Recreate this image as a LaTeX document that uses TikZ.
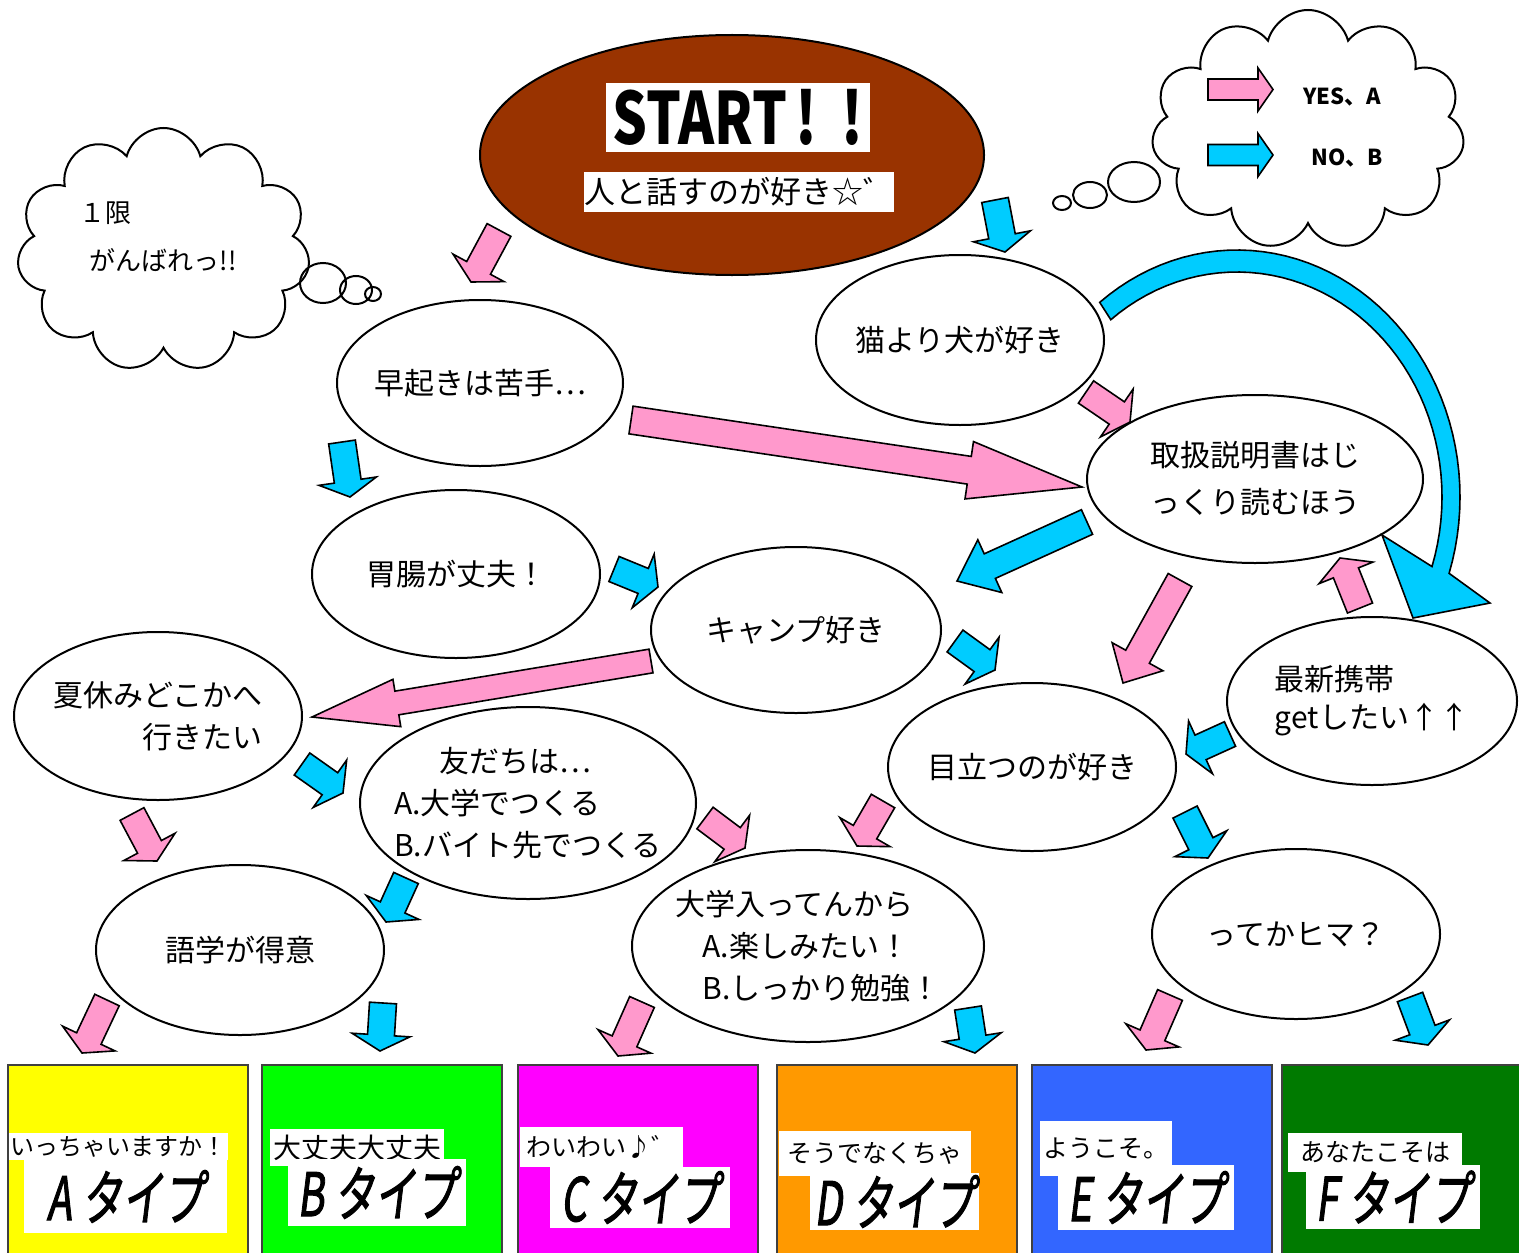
\documentclass[tikz,border=0pt]{standalone}
\usepackage{fontspec}
\usepackage{graphicx}
\setmainfont{Noto Sans CJK JP}
\newfontfamily\typefont[FakeSlant=0.18,FakeBold=2]{Noto Sans CJK JP}
\usetikzlibrary{shapes.geometric,shapes.symbols,calc}

\definecolor{yescol}{HTML}{FF99CC}
\definecolor{nocol}{HTML}{00CCFF}
\definecolor{startcol}{HTML}{993300}
\definecolor{colA}{HTML}{FFFF00}
\definecolor{colB}{HTML}{00FF00}
\definecolor{colC}{HTML}{FF00FF}
\definecolor{colD}{HTML}{FF9900}
\definecolor{colE}{HTML}{3366FF}
\definecolor{colF}{HTML}{007A00}

\tikzset{
  shaftw/.store in=\shw, headw/.store in=\hhw, headl/.store in=\hl,
  shaftw=6.75pt, headw=14.5pt, headl=8pt,
  blk/.style={draw, line width=0.8pt, to path={let \p1=(\tikztostart), \p2=(\tikztotarget),
      \n1={atan2(\y2-\y1,\x2-\x1)}, \n2={veclen(\x2-\x1,\y2-\y1)} in
      (\p1) ++(\n1+90:\shw) -- ++(\n1:\n2-\hl) -- ++(\n1+90:\hhw-\shw) -- (\p2)
      -- ($(\p2)+(\n1+180:\hl)+(\n1-90:\hhw)$) -- ++(\n1+90:\hhw-\shw)
      -- ++(\n1+180:\n2-\hl) -- cycle}},
  yes/.style={blk, fill=yescol},
  no/.style={blk, fill=nocol},
  bub/.style 2 args={ellipse, draw, line width=1pt, fill=white, inner xsep=-30pt, inner ysep=0pt,
      minimum width=#1pt, minimum height=#2pt, font=\fontsize{15}{21}\selectfont},
  puff/.style={cloud, cloud puffs=11, cloud ignores aspect, draw, line width=1pt, inner sep=0pt},
  tbox/.style={draw=black!75, line width=1pt, minimum width=120pt, minimum height=98.5pt},
  capbox/.style={fill=white, inner sep=0pt, font=\fontsize{12.5}{12.5}\selectfont},
  typbox/.style={fill=white, inner sep=0pt},
}
\newcommand{\typelabel}[1]{\scalebox{0.68}[1]{\typefont\fontsize{30}{30}\selectfont #1\hspace{0.25em}タイプ}}

\begin{document}
\begin{tikzpicture}[x=0.5pt, y=-0.5pt]
  \useasboundingbox (0,0) rectangle (1519,1252);
  \clip (0,0) rectangle (1519,1252);

  % thought clouds
  \node[puff, minimum width=146.5pt, minimum height=122pt] (ganbare) at (163.5,250) {};
  \node[align=left, font=\fontsize{13}{24}\selectfont] (ganbaretxt) at (158,237) {１限\\\hspace*{0.4em}がんばれっ!!};
  \draw[line width=1pt] (323,283) ellipse (23 and 20) (356,290) ellipse (16 and 14) (373,294) ellipse (8 and 7);

  \node[puff, minimum width=156.5pt, minimum height=120pt] (legend) at (1308,130) {};
  \draw[line width=1pt] (1134,182) ellipse (26 and 20) (1090,195) ellipse (17 and 13) (1062,203) ellipse (9 and 7);
  \coordinate (lys) at (1208,89.5); \coordinate (lyt) at (1273,89.5);
  \coordinate (lns) at (1208,155);  \coordinate (lnt) at (1273,155);
  \draw[yes, shaftw=5.25pt, headw=10.75pt, headl=7.5pt] (lys) to (lyt);
  \draw[no, shaftw=5.25pt, headw=10.75pt, headl=7.5pt] (lns) to (lnt);
  \node[font=\fontsize{11}{11}\selectfont\bfseries] (yeslbl) at (1342,97) {YES、A};
  \node[font=\fontsize{11}{11}\selectfont\bfseries] (nolbl) at (1347,158) {NO、B};

  % start
  \node[bub={252}{120}, fill=startcol] (start) at (732,155) {};
  \node[fill=white, inner sep=0pt, minimum width=132pt, minimum height=34.5pt] (startlbl) at (738,117.5)
    {\scalebox{0.76}[1]{\fontsize{36}{36}\selectfont\bfseries START\hspace{0.15em}!\hspace{0.45em}!}};
  \node[fill=white, inner sep=0pt, minimum width=151pt, minimum height=20pt, font=\fontsize{15.5}{15.5}\selectfont] (startsub) at (739,192) {人と話すのが好き☆゛};

  % questions
  \node[bub={143}{83}] (early) at (480,383) {早起きは苦手…};
  \node[bub={144}{85}] (dog) at (960,340) {猫より犬が好き};
  \node[bub={168}{84}, align=center, font=\fontsize{15}{23.5}\selectfont] (manual) at (1255,479) {取扱説明書はじ\\っくり読むほう};
  \node[bub={144}{84}] (stomach) at (456,574) {胃腸が丈夫！};
  \node[bub={145}{83}] (camp) at (796,630) {キャンプ好き};
  \node[bub={144}{84}, align=right] (summer) at (158,716) {夏休みどこかへ\\行きたい};
  \node[bub={145}{84}, align=left, font=\fontsize{15}{19}\selectfont] (phone) at (1372,701) {最新携帯\\getしたい↑↑};
  \node[bub={144}{84}] (stand) at (1032,767) {目立つのが好き};
  \node[bub={168}{96}, align=left] (friends) at (528,803) {\hspace*{1.5em}友だちは…\\A.大学でつくる\\B.バイト先でつくる};
  \node[bub={144}{85}] (lang) at (240,950) {語学が得意};
  \node[bub={176}{96}, align=left] (univ) at (808,946) {大学入ってんから\\\hspace*{0.9em}A.楽しみたい！\\\hspace*{0.9em}B.しっかり勉強！};
  \node[bub={144}{85}] (bored) at (1296,934) {ってかヒマ？};

  % yes arrows
  \foreach \k/\a/\b in {y1/{499,230}/{471,282}, y2/{1086,392}/{1130,422}, y3/{1360,608}/{1340,558},
      y4/{132,814}/{157,861}, y5/{705,818}/{745,848}, y6/{883,801}/{857,846},
      y7/{107,1000}/{82,1053}, y8/{642,1002}/{618,1056}, y9/{1170,995}/{1146,1050}}
    {\coordinate (\k s) at (\a); \coordinate (\k t) at (\b); \draw[yes] (\k s) to (\k t);}
  \coordinate (y10s) at (631,420); \coordinate (y10t) at (1082,487);
  \draw[yes, shaftw=7pt, headl=57pt] (y10s) to (y10t);
  \coordinate (y11s) at (651,661); \coordinate (y11t) at (312,717);
  \draw[yes, shaftw=6pt, headw=12pt, headl=43pt] (y11s) to (y11t);
  \coordinate (y12s) at (1180,580); \coordinate (y12t) at (1123,683);
  \draw[yes, headl=15pt] (y12s) to (y12t);

  % no arrows
  \foreach \k/\a/\b in {n1/{995,200}/{1005,252}, n2/{342,442}/{350,497}, n3/{614,569}/{658,587},
      n4/{955,641}/{995,670}, n5/{1230,734}/{1186,754}, n6/{302,764}/{343,793},
      n7/{406,878}/{386,922}, n8/{383,1003}/{380,1051}, n9/{968,1008}/{975,1053},
      n10/{1185,812}/{1208,858}, n11/{1410,997}/{1428,1045}}
    {\coordinate (\k s) at (\a); \coordinate (\k t) at (\b); \draw[no] (\k s) to (\k t);}
  \coordinate (n12s) at (1087,522); \coordinate (n12t) at (957,581);
  \draw[no, headl=18pt] (n12s) to (n12t);
  \draw[no] plot[domain=232:378, samples=50, variable=\t] ({1237+223*cos(\t)},{497+247*sin(\t)})
    -- (1490,603) -- (1413,618) -- (1382,535)
    -- plot[domain=378:232, samples=50, variable=\t] ({1237+205*cos(\t)},{497+225*sin(\t)}) -- cycle;

  % result boxes
  \node[tbox, fill=colA] (boxA) at (127.5,1163.5) {};
  \node[tbox, fill=colB] (boxB) at (382,1163.5) {};
  \node[tbox, fill=colC] (boxC) at (638,1163.5) {};
  \node[tbox, fill=colD] (boxD) at (896.5,1163.5) {};
  \node[tbox, fill=colE] (boxE) at (1152,1163.5) {};
  \node[tbox, fill=colF] (boxF) at (1402,1163.5) {};
  \node[capbox, minimum width=109.5pt, minimum height=13.5pt, font=\fontsize{12}{12}\selectfont] (capA) at (118.5,1146.5) {いっちゃいますか！};
  \node[capbox, minimum width=87pt, minimum height=18.5pt, font=\fontsize{14}{14}\selectfont] (capB) at (357,1147.5) {大丈夫大丈夫};
  \node[capbox, minimum width=81.5pt, minimum height=20pt] (capC) at (601.5,1147) {わいわい♪゛};
  \node[capbox, minimum width=96pt, minimum height=22.5pt] (capD) at (875,1153.5) {そうでなくちゃ};
  \node[capbox, minimum width=66pt, minimum height=27.5pt] (capE) at (1106,1148.5) {ようこそ。};
  \node[capbox, minimum width=87pt, minimum height=19.5pt] (capF) at (1375,1152.5) {あなたこそは};
  \node[typbox, minimum width=101.5pt, minimum height=36.5pt] (typA) at (125.5,1196.5) {\typelabel{A}};
  \node[typbox, minimum width=89pt, minimum height=33.5pt] (typB) at (377,1192.5) {\typelabel{B}};
  \node[typbox, minimum width=90pt, minimum height=30.5pt] (typC) at (640,1197.5) {\typelabel{C}};
  \node[typbox, minimum width=84.5pt, minimum height=28.5pt] (typD) at (894.5,1201.5) {\typelabel{D}};
  \node[typbox, minimum width=88pt, minimum height=32.5pt] (typE) at (1146,1197.5) {\typelabel{E}};
  \node[typbox, minimum width=87pt, minimum height=32pt] (typF) at (1393,1197) {\typelabel{F}};
\end{tikzpicture}
\end{document}
